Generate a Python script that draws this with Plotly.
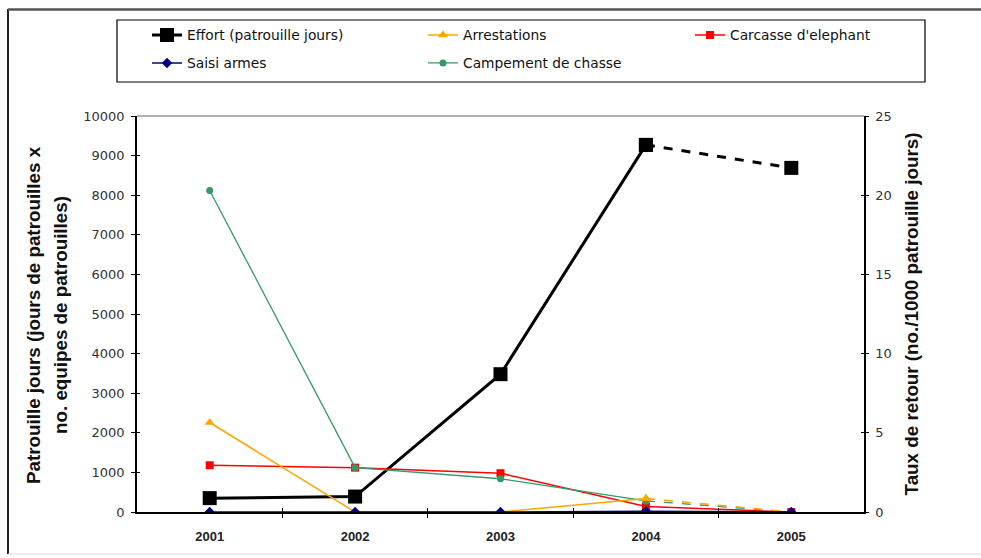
import plotly.graph_objects as go

# Données annuelles de patrouille
years = [2001, 2002, 2003, 2004, 2005]
effort = [350, 390, 3480, 9270, 8690]           # patrouille jours (axe gauche)
arrestations = [5.65, 0.0, 0.0, 0.85, 0.0]      # taux /1000 patrouille jours (axe droit)
carcasse = [2.95, 2.8, 2.45, 0.35, 0.0]
saisi_armes = [0.0, 0.0, 0.0, 0.05, 0.0]
campement = [20.3, 2.8, 2.1, 0.7, 0.0]

left_title_lines = ["Patrouille jours (jours de patrouilles x", "no. equipes de patrouilles)"]
right_title = "Taux de retour (no./1000 patrouille jours)"

C_EFFORT = "#000000"
C_ARREST = "#FFA500"
C_CARC = "#FF0000"
C_SAISI = "#000080"
C_CAMP = "#339966"

FONT = "Liberation Sans, Arial, sans-serif"
WIDE = "DejaVu Sans, Liberation Sans, sans-serif"

# Plot-area geometry in pixels
W, H = 981, 558
L, R, T, B = 137, 864, 116, 512


def px_x(px):
    return (px - L) / (R - L)


def px_y(py):
    return (B - py) / (B - T)


fig = go.Figure()


def add_series(name, values, color, symbol, size, width, yaxis, legend, dash_last=False):
    n = len(years) - 1 if dash_last else len(years)
    fig.add_trace(go.Scatter(
        x=years[:n], y=values[:n], name=name, mode="lines+markers",
        line=dict(color=color, width=width),
        marker=dict(symbol=symbol, size=size, color=color),
        yaxis=yaxis, legend=legend, showlegend=True,
    ))
    if dash_last:
        fig.add_trace(go.Scatter(
            x=years[-2:], y=values[-2:], name=name, mode="lines+markers",
            line=dict(color=color, width=width, dash="dash"),
            marker=dict(symbol=symbol, size=size, color=color),
            yaxis=yaxis, showlegend=False,
        ))


add_series("Effort (patrouille jours)", effort, C_EFFORT, "square", 14, 3, "y", "legend", dash_last=True)
add_series("Carcasse d'elephant", carcasse, C_CARC, "square", 8, 1.5, "y2", "legend3")
add_series("Campement de chasse", campement, C_CAMP, "circle", 7, 1.3, "y2", "legend5", dash_last=True)
add_series("Arrestations", arrestations, C_ARREST, "triangle-up", 9, 1.5, "y2", "legend2", dash_last=True)
add_series("Saisi armes", saisi_armes, C_SAISI, "diamond", 8, 1.5, "y2", "legend4")

tick_font = dict(family=WIDE, size=13, color="#333333")
title_font = dict(family=FONT, size=18.8, color="#111111", weight="bold")

# Legend entries: (legend id, left px, centre py)
legend_pos = {
    "legend": (147, 35),
    "legend2": (423, 35),
    "legend3": (690, 35),
    "legend4": (147, 63),
    "legend5": (423, 63),
}
legend_layout = {}
for key, (lx, ly) in legend_pos.items():
    legend_layout[key] = dict(
        x=px_x(lx), y=px_y(ly), xanchor="left", yanchor="middle",
        orientation="h", bgcolor="rgba(0,0,0,0)", borderwidth=0,
        font=dict(family=WIDE, size=13.8, color="#111111"),
    )

# left axis title, one annotation per line
annotations = [
    dict(text=line, xref="paper", yref="paper", x=px_x(px), y=px_y(315),
         xanchor="center", yanchor="middle", textangle=-90, showarrow=False,
         font=title_font)
    for line, px in zip(left_title_lines, [33, 60])
]

fig.update_layout(
    width=W, height=H,
    margin=dict(l=L, r=W - R, t=T, b=H - B, pad=0),
    paper_bgcolor="white", plot_bgcolor="white",
    font=dict(family=FONT),
    annotations=annotations,
    xaxis=dict(
        range=[2000.5, 2005.5], tickmode="array", tickvals=years,
        ticktext=[str(y) for y in years], ticks="",
        tickfont=dict(family=FONT, size=13, color="#222222", weight="bold"),
        showline=True, linecolor="black", linewidth=1.5, showgrid=False, zeroline=False,
        minor=dict(tickmode="array", tickvals=[2001.5, 2002.5, 2003.5, 2004.5],
                   ticks="outside", ticklen=4, tickcolor="black", tickwidth=1),
        ticklabelstandoff=12,
    ),
    xaxis2=dict(
        overlaying="x", matches="x", anchor="y", side="bottom",
        tickmode="array", tickvals=[2001.5, 2002.5, 2003.5, 2004.5],
        ticks="inside", ticklen=4, tickcolor="black", tickwidth=1,
        showticklabels=False, showline=False, showgrid=False, zeroline=False,
    ),
    yaxis=dict(
        range=[0, 10000], dtick=1000, tickformat="d", tickfont=tick_font,
        ticks="outside", ticklen=4, tickcolor="black",
        showline=True, linecolor="black", linewidth=1.5, showgrid=False, zeroline=False,
        ticklabelstandoff=4,
    ),
    yaxis3=dict(
        overlaying="y", matches="y", anchor="x", side="left",
        dtick=1000, ticks="inside", ticklen=3, tickcolor="black",
        showticklabels=False, showline=False, showgrid=False, zeroline=False,
    ),
    yaxis2=dict(
        range=[0, 25], dtick=5, overlaying="y", side="right", anchor="x",
        tickfont=tick_font, ticks="outside", ticklen=3, tickcolor="black",
        showline=True, linecolor="black", linewidth=1.5, showgrid=False, zeroline=False,
        title=dict(text=right_title, font=title_font, standoff=14),
        ticklabelstandoff=4,
    ),
    yaxis4=dict(
        range=[0, 25], dtick=5, overlaying="y", side="right", anchor="x",
        ticks="inside", ticklen=3, tickcolor="black",
        showticklabels=False, showline=False, showgrid=False, zeroline=False,
    ),
    **legend_layout,
    shapes=[
        # plot-area top border
        dict(type="line", xref="paper", yref="paper", x0=0, x1=1, y0=1, y1=1,
             line=dict(color="#999999", width=1.5)),
        # legend box
        dict(type="rect", xref="paper", yref="paper",
             x0=px_x(117), x1=px_x(925), y0=px_y(20), y1=px_y(82),
             line=dict(color="black", width=1.2), fillcolor="rgba(0,0,0,0)"),
        # outer frame
        dict(type="line", xref="paper", yref="paper", x0=px_x(8), x1=px_x(8),
             y0=px_y(9), y1=px_y(554), line=dict(color="#222222", width=2)),
        dict(type="line", xref="paper", yref="paper", x0=px_x(8), x1=px_x(990),
             y0=px_y(9.5), y1=px_y(9.5), line=dict(color="#555555", width=2.5)),
        dict(type="line", xref="paper", yref="paper", x0=px_x(8), x1=px_x(990),
             y0=px_y(554), y1=px_y(554), line=dict(color="#d8d8d8", width=1)),
    ],
)

# invisible carriers so the tick-only overlay axes get drawn
fig.add_trace(go.Scatter(x=[years[0]], y=[0], xaxis="x2", yaxis="y3", mode="markers",
                         marker=dict(opacity=0), showlegend=False, hoverinfo="skip"))
fig.add_trace(go.Scatter(x=[years[0]], y=[0], xaxis="x", yaxis="y4", mode="markers",
                         marker=dict(opacity=0), showlegend=False, hoverinfo="skip"))

fig.write_html("out.html")
